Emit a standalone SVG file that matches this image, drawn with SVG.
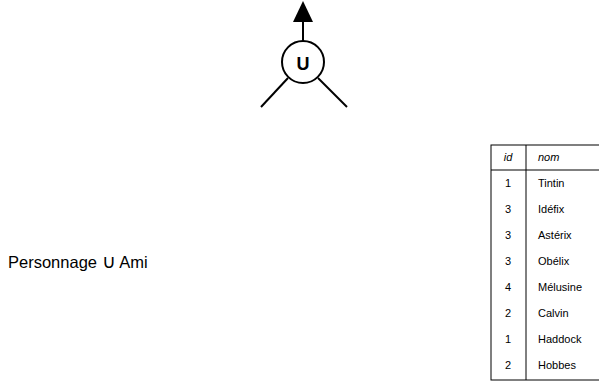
<svg xmlns="http://www.w3.org/2000/svg" width="599" height="381" viewBox="0 0 599 381">
<style>
.ln{stroke:#000;stroke-width:2;fill:none}
.t{font-family:"Liberation Sans",Arial,sans-serif;font-size:11px;fill:#000}
.h{font-style:italic}
.c{text-anchor:middle}
</style>
<rect width="599" height="381" fill="#fff"/>
<g id="connectors">
<line class="ln" x1="303" y1="42" x2="303" y2="21"/>
<path d="M303,1 L313,22 L293,22 z" fill="#000"/>
<line class="ln" x1="288" y1="78" x2="261" y2="107"/>
<line class="ln" x1="318" y1="78" x2="347" y2="107"/>
</g>
<g id="union">
<circle class="ln" cx="303" cy="62" r="21"/>
<text x="303" y="70" class="c" style="font-family:'Liberation Sans',Arial,sans-serif;font-size:18px;font-weight:bold">U</text>
</g>
<g id="label">
<text x="8" y="268" style="font-family:'Liberation Sans',Arial,sans-serif;font-size:16.5px">Personnage <tspan style="font-family:'DejaVu Sans ExtraLight','DejaVu Sans',sans-serif;font-size:19px;font-weight:200">∪</tspan> Ami</text>
</g>
<g id="table">
<rect x="491" y="145" width="120" height="235" fill="none" stroke="#000" stroke-width="1"/>
<line x1="526" y1="145" x2="526" y2="380" stroke="#000"/>
<line x1="491" y1="170" x2="611" y2="170" stroke="#000"/>
<text class="t h c" x="508" y="161">id</text>
<text class="t h" x="538" y="161">nom</text>
<text class="t c" x="508" y="187">1</text><text class="t" x="538" y="187">Tintin</text>
<text class="t c" x="508" y="213">3</text><text class="t" x="538" y="213">Idéfix</text>
<text class="t c" x="508" y="239">3</text><text class="t" x="538" y="239">Astérix</text>
<text class="t c" x="508" y="265">3</text><text class="t" x="538" y="265">Obélix</text>
<text class="t c" x="508" y="291">4</text><text class="t" x="538" y="291">Mélusine</text>
<text class="t c" x="508" y="317">2</text><text class="t" x="538" y="317">Calvin</text>
<text class="t c" x="508" y="343">1</text><text class="t" x="538" y="343">Haddock</text>
<text class="t c" x="508" y="369">2</text><text class="t" x="538" y="369">Hobbes</text>
</g>
</svg>
